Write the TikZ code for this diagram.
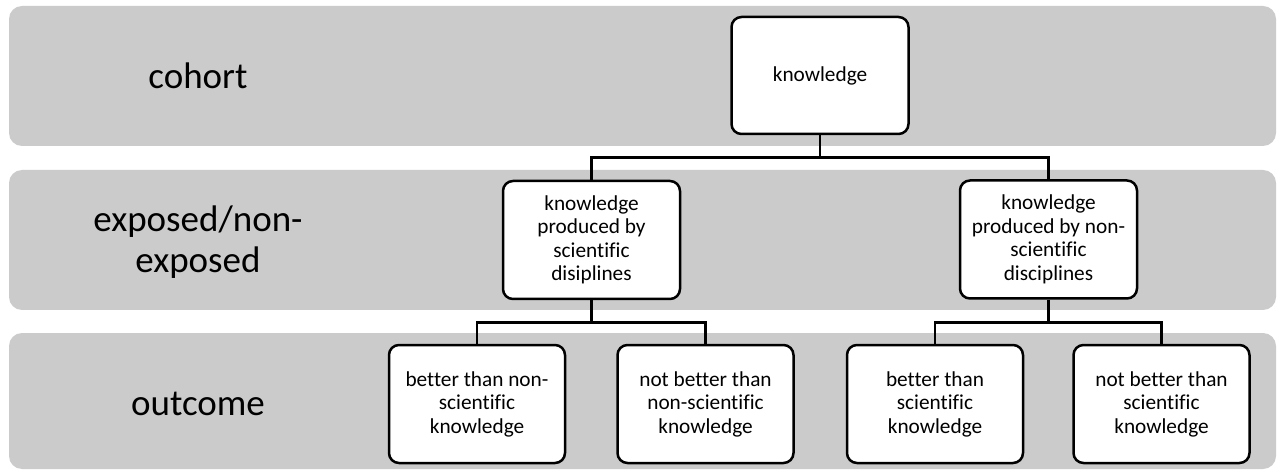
\documentclass[tikz,border=0pt]{standalone}
\usepackage{fontspec}
\setmainfont{Carlito}[Ligatures=NoCommon]
\definecolor{bandgray}{RGB}{203,203,203}
\tikzset{
  band/.style={fill=bandgray, draw=none, rounded corners=13pt},
  bandlabel/.style={font=\fontsize{37}{41}\selectfont, align=center, text=black},
  kbox/.style={draw=black, line width=2.5pt, fill=white, rounded corners=10pt,
    minimum width=177pt, minimum height=117pt, inner sep=2pt,
    font=\fontsize{21.3}{23.5}\selectfont, align=center},
  link/.style={draw=black, line width=2.5pt}
}
\begin{document}
\begin{tikzpicture}[x=1pt, y=-1pt]
\useasboundingbox (0,0) rectangle (1277,470);
% bands
\path[band] (9,6) rectangle (1276,146);
\path[band] (9,170) rectangle (1276,310);
\path[band] (9,333) rectangle (1276,469);
% band labels
\node[bandlabel] (lcohort) at (198,76) {cohort};
\node[bandlabel] (lexposed) at (198,242) {exposed/non-\\exposed};
\node[bandlabel] (loutcome) at (198,404) {outcome};
% boxes
\node[kbox] (k) at (820,75.5) {knowledge};
\node[kbox, minimum height=118pt] (ml) at (591.5,240) {knowledge\\produced by\\scientific\\disiplines};
\node[kbox, minimum height=118pt] (mr) at (1048.5,239.5) {knowledge\\produced by non-\\scientific\\disciplines};
\node[kbox, minimum width=176pt, minimum height=118pt] (b1) at (477,404) {better than non-\\scientific\\knowledge};
\node[kbox, minimum width=176pt, minimum height=118pt] (b2) at (705.5,404) {not better than\\non-scientific\\knowledge};
\node[kbox, minimum width=176pt, minimum height=118pt] (b3) at (935,404) {better than\\scientific\\knowledge};
\node[kbox, minimum width=176pt, minimum height=118pt] (b4) at (1161.5,404) {not better than\\scientific\\knowledge};
% junctions
\coordinate (j0) at (820,157.5);
\coordinate (j1) at (591.5,322.5);
\coordinate (j2) at (1048.5,322.5);
% connectors
\draw[link] (k.south) -- (j0);
\draw[link] (ml.north) |- (j0) -| (mr.north);
\draw[link] (ml.south) -- (j1);
\draw[link] (b1.north) |- (j1) -| (b2.north);
\draw[link] (mr.south) -- (j2);
\draw[link] (b3.north) |- (j2) -| (b4.north);
\end{tikzpicture}
\end{document}
